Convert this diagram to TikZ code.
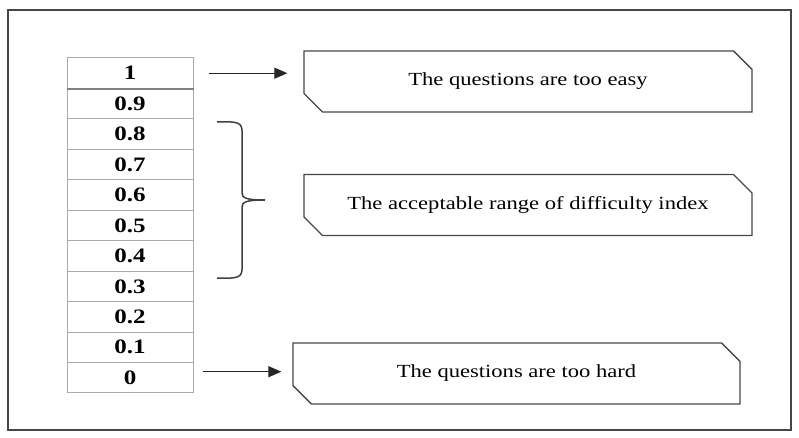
\documentclass[tikz,border=0pt]{standalone}
\usepackage{fontspec}
\setmainfont{Liberation Serif}[FakeStretch=1.22]
\usepackage{tikz}
\usetikzlibrary{arrows.meta,shapes.misc}

\definecolor{rowline}{RGB}{170,170,170}
\definecolor{boxline}{RGB}{70,70,70}

\tikzset{
  cell/.style = {draw=rowline, line width=1pt, minimum width=126pt, minimum height=30.45pt,
                 inner sep=0pt, font=\fontsize{20.5}{21}\selectfont\bfseries},
  note/.style = {draw=boxline, line width=1.3pt, chamfered rectangle,
                 chamfered rectangle corners={north east,south west},
                 chamfered rectangle xsep=10pt, chamfered rectangle ysep=10pt,
                 minimum width=448pt, minimum height=61pt, inner sep=0pt,
                 font=\fontsize{18.5}{20}\selectfont},
  pointer/.style = {-{Triangle[length=13pt,width=11pt]}, line width=1.2pt, color=black!85}
}

\begin{document}
\begin{tikzpicture}[x=1pt, y=-1pt]
  \useasboundingbox (0,0) rectangle (799,438);
  \draw[boxline, line width=1.3pt] (8,10) rectangle (791,430);

  % scale of the index
  \foreach \val [count=\i from 0] in {1,0.9,0.8,0.7,0.6,0.5,0.4,0.3,0.2,0.1,0}
    \node[cell] (r\i) at (130, 58 + 30.45*\i + 15.2) {\val};
  \draw[gray, line width=2pt] (r0.south west) -- (r0.south east);

  % notes
  \node[note] (easy) at (528,81.5) {The questions are too easy};
  \node[note] (range) at (528,205) {The acceptable range of difficulty index};
  \node[note, minimum width=447pt] (hard) at (516.5,373.5) {The questions are too hard};

  \draw[pointer, shorten <=15pt, shorten >=16pt] (r0.east) -- (r0.east -| easy.west);
  \draw[pointer, shorten <=9pt, shorten >=11pt] ([yshift=6pt]r10.east) -- ([yshift=6pt]r10.east -| hard.west);

  % brace
  \draw[black!75, line width=1.5pt]
    (217,122) .. controls (238,121) and (242,123) .. (242,131) -- (242,193)
    .. controls (242,198) and (246,200) .. (265,200)
    .. controls (246,200) and (242,202) .. (242,207) -- (242,269)
    .. controls (242,277) and (238,279) .. (217,278);
\end{tikzpicture}
\end{document}
